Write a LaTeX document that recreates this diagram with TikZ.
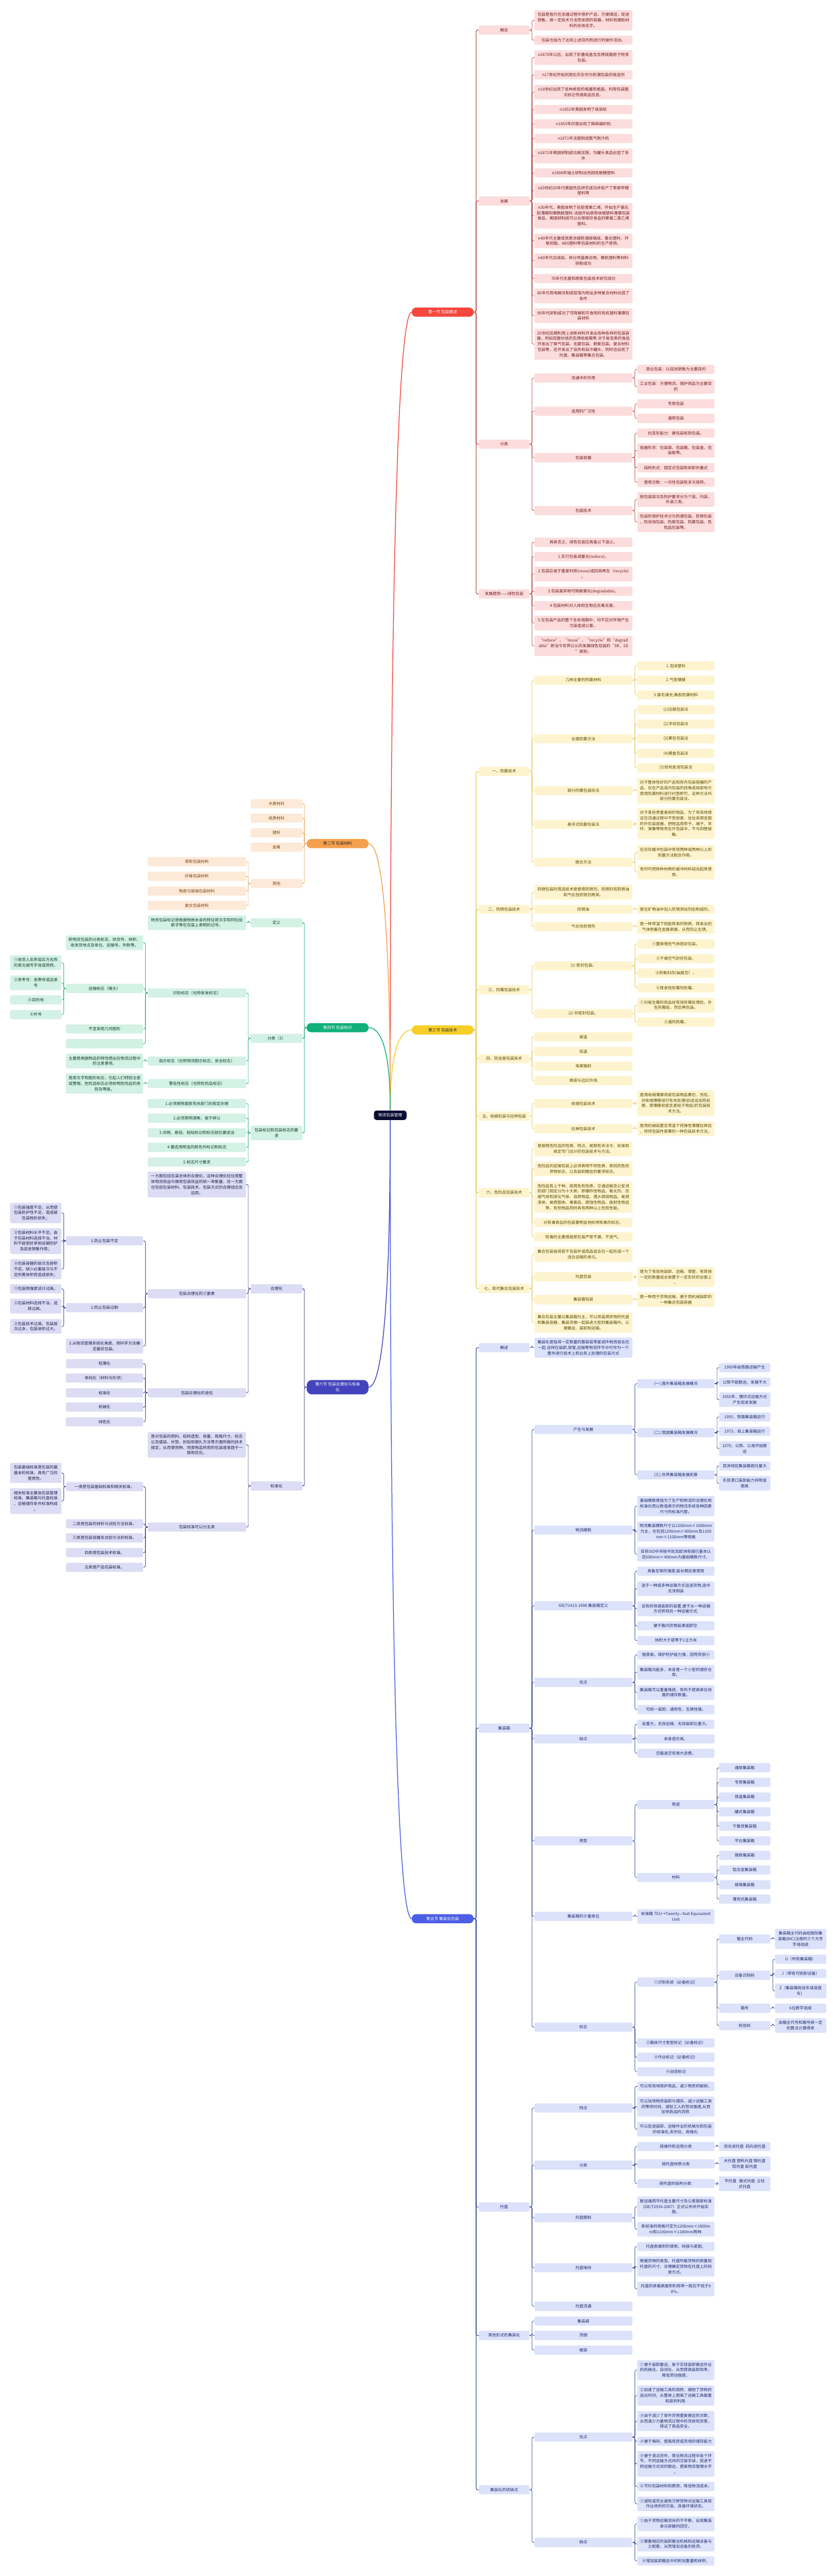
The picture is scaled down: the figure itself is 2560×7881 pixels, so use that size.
\documentclass[tikz,border=0pt]{standalone}
\usepackage{fontspec}
\setmainfont{Noto Sans CJK SC}
\definecolor{rootC}{HTML}{0C0C33}
\definecolor{redA}{HTML}{F5473E}\definecolor{redS}{HTML}{FCDCDC}\definecolor{redT}{HTML}{6E1E1E}\definecolor{redLn}{HTML}{B8403C}
\definecolor{yelA}{HTML}{F6CE2A}\definecolor{yelS}{HTML}{FDF4CF}\definecolor{yelT}{HTML}{5A4800}\definecolor{yelLn}{HTML}{E6C34A}
\definecolor{bluA}{HTML}{4A5EE6}\definecolor{bluS}{HTML}{DCE2FA}\definecolor{bluT}{HTML}{1F2B6B}\definecolor{bluLn}{HTML}{2E3F8E}
\definecolor{oraA}{HTML}{F4A04E}\definecolor{oraS}{HTML}{FDE9D7}\definecolor{oraT}{HTML}{7A4512}\definecolor{oraLn}{HTML}{E9A55E}
\definecolor{grnA}{HTML}{12B07A}\definecolor{grnS}{HTML}{D3F1E5}\definecolor{grnT}{HTML}{123D2E}\definecolor{grnLn}{HTML}{17A574}
\definecolor{purA}{HTML}{4343BD}\definecolor{purS}{HTML}{DCDCF4}\definecolor{purT}{HTML}{20204E}\definecolor{purLn}{HTML}{2C2C78}
\newcommand\fs{\fontsize{12.2pt}{16.8pt}\selectfont}
\tikzset{
 box/.style={rectangle,rounded corners=3pt,inner xsep=4pt,inner ysep=1pt,align=center,font=\fs,minimum height=28pt},
 n2/.style={minimum height=44.8pt},n3/.style={minimum height=61.6pt},
 n4/.style={minimum height=78.4pt},n5/.style={minimum height=95.2pt},
 lone/.style={rectangle,rounded corners=13pt,minimum width=189pt,minimum height=28pt,font=\fs,align=center,inner sep=2pt},
 cur/.style={fill=white},
 cn/.style={draw=black,line width=1.3pt,rounded corners=5pt},
 main/.style={line width=2.4pt}
}
\newcommand\Rtwo[4][]{\node[box,cur,minimum width=155pt,#1] (#2) at (1542.5,#3) {#4};}
\newcommand\Rthr[4][]{\node[box,cur,minimum width=300pt,#1] (#2) at (1785,#3) {#4};}
\newcommand\Rfou[4][]{\node[box,cur,minimum width=236pt,#1] (#2) at (2068,#3) {#4};}
\newcommand\Rfiv[4][]{\node[box,cur,minimum width=157pt,#1] (#2) at (2278.5,#3) {#4};}
\newcommand\Rsix[4][]{\node[box,cur,minimum width=157pt,#1] (#2) at (2449.5,#3) {#4};}
\newcommand\Ltwo[4][]{\node[box,cur,minimum width=158pt,#1] (#2) at (846,#3) {#4};}
\newcommand\Lthr[4][]{\node[box,cur,minimum width=301pt,#1] (#2) at (602.5,#3) {#4};}
\newcommand\Lfou[4][]{\node[box,cur,minimum width=236pt,#1] (#2) at (320,#3) {#4};}
\newcommand\Lfiv[4][]{\node[box,cur,minimum width=157pt,#1] (#2) at (109.5,#3) {#4};}
\newcommand\conR[3][]{\foreach \kid in {#3}{\draw[cn,#1] (#2.east) -- ++(7.5,0) |- (\kid.west);}}
\newcommand\conL[3][]{\foreach \kid in {#3}{\draw[cn,#1] (#2.west) -- ++(-7,0) |- (\kid.east);}}
\begin{document}
\begin{tikzpicture}[x=1pt,y=-1pt]
\fill[white] (0,0) rectangle (2560,7881);
\useasboundingbox (0,0) rectangle (2560,7881);

\node[rectangle,rounded corners=8pt,fill=rootC,text=white,minimum width=100pt,minimum height=29pt,font=\fs,inner sep=2pt] (root) at (1194,3412) {物流包装管理};

% ================= RED =================
\begin{scope}[cur/.style={fill=redS,text=redT},cn/.style={draw=redLn,line width=1.3pt,rounded corners=5pt}]
\node[lone,fill=redA,text=white] (r) at (1354.5,955) {第一节 包装概述};
\Rtwo{ra}{92}{概念}
\Rtwo{rb}{615}{发展}
\Rtwo{rc}{1359}{分类}
\Rtwo{rd}{1817}{发展趋势——绿色包装}
\Rthr[n3]{ra1}{62}{包装是指为在流通过程中保护产品，方便储运，促进\\销售，按一定技术方法而采用的容器、材料和辅助材\\料的总体名字。}
\Rthr{ra2}{123}{包装也指为了达到上述目的而进行的操作活动。}
\Rthr[n2]{rb1}{176}{n1870年以后，出现了折叠纸盒及瓦楞纸箱用于物资\\包装。}
\Rthr{rb2}{229}{n17世纪开始利用石灰石作为防潮包装的吸湿剂}
\Rthr[n2]{rb3}{282}{n18世纪出现了各种类型的瓶塞和瓶盖。利用包装图\\文标记传递商品信息。}
\Rthr{rb4}{335}{n1852年美国发明了纸袋机}
\Rthr{rb5}{379}{n1855年印度出现了麻袋编织机}
\Rthr{rb6}{424}{n1871年法国制成氨气制冷机}
\Rthr[n2]{rb7}{477}{n1871年美国研制成功高压锅，为罐头食品创造了条\\件}
\Rthr{rb8}{529}{n1908年瑞士研制出热固性酚醛塑料}
\Rthr[n2]{rb9}{583}{n20世纪20年代美国先后研究成功并投产了苯胺甲醛\\塑料等}
\Rthr[n4]{rb10}{660}{n30年代，美国发明了低密度聚乙烯，开始生产氯化\\胶薄膜和聚酰胺塑料.法国开始使用收缩塑料薄膜包装\\食品，美国研制成可以长期保存食品的聚偏二氯乙烯\\塑料。}
\Rthr[n2]{rb11}{737}{n40年代主要成就是涂蜡防潮玻璃纸、氟化塑料、环\\氧树脂、ABS塑料等包装材料的生产使用。}
\Rthr[n2]{rb12}{798}{n60年代合成纸、异分同晶聚合物、聚矾塑料等材料\\研制成功}
\Rthr{rb13}{852}{70年代无菌和脱氧包装技术研究成功}
\Rthr[n2]{rb14}{905}{80年代用电解法制成铝箔为制出多种复合材料创造了\\条件}
\Rthr[n2]{rb15}{966}{90年代研制成功了可降解和可食用的有机塑料薄膜包\\装材料}
\Rthr[n5]{rb16}{1053}{20世纪后期利用上述新材料开发出各种各样的包装容\\器，例如双面衬纸的瓦楞纸板箱等.对于易变质的食品\\开发出了换气包装、无菌包装、脱氧包装、复合材料\\包装等，还开发出了自热和自冷罐头，同时还出现了\\托盘、集装箱等集合包装。}
\Rthr{rc1}{1156}{流通中的作用}
\Rthr{rc2}{1258}{适用的广泛性}
\Rthr{rc3}{1400}{包装容器}
\Rthr{rc4}{1562}{包装技术}
\Rfou{rc1a}{1130}{商业包装：以促进销售为主要目的}
\Rfou[n2]{rc1b}{1183}{工业包装：方便物流、保护商品为主要目\\的}
\Rfou{rc2a}{1235}{专用包装}
\Rfou{rc2b}{1280}{通用包装}
\Rfou{rc3a}{1325}{抗变形能力：硬包装和软包装。}
\Rfou[n2]{rc3b}{1378}{容器形状：包装袋、包装箱、包装盒、包\\装瓶等。}
\Rfou{rc3c}{1431}{结构形式：固定式包装和拆卸折叠式}
\Rfou{rc3d}{1475}{使用次数：一次性包装和多次周转。}
\Rfou[n2]{rc4a}{1528}{按包装层次及防护要求分为个装、内装、\\外装三类。}
\Rfou[n3]{rc4b}{1597}{包装的保护技术分为防潮包装、防锈包装\\、防虫蚀包装、防腐包装、防震包装、危\\险品包装等。}
\Rthr{rd1}{1659}{具体言之，绿色包装应具备以下涵义。}
\Rthr{rd2}{1703}{1.实行包装减量化(reduce)。}
\Rthr[n2]{rd3}{1756}{2.包装应易于重复利用(reuse)或回收再生（recycle)\\。}
\Rthr{rd4}{1809}{3.包装废弃物可降解腐化(degradable)。}
\Rthr{rd5}{1853}{4.包装材料对人体和生物应无毒无害。}
\Rthr[n2]{rd6}{1906}{5.在包装产品的整个生命周期中，均不应对环境产生\\污染造成公害。}
\Rthr[n3]{rd7}{1976}{“reduce”、“reuse”、“recycle”和“degrad\\able”即当今世界公认的发展绿色包装的“3R，1D\\”原则。}
\conR[line width=1.8pt]{r}{ra,rb,rc,rd}
\conR{ra}{ra1,ra2}
\conR{rb}{rb1,rb2,rb3,rb4,rb5,rb6,rb7,rb8,rb9,rb10,rb11,rb12,rb13,rb14,rb15,rb16}
\conR{rc}{rc1,rc2,rc3,rc4}
\conR{rc1}{rc1a,rc1b}
\conR{rc2}{rc2a,rc2b}
\conR{rc3}{rc3a,rc3b,rc3c,rc3d}
\conR{rc4}{rc4a,rc4b}
\conR{rd}{rd1,rd2,rd3,rd4,rd5,rd6,rd7}
\draw[main,draw=redA] (root.north) .. controls (1194,2909) and (1194,955) .. (r.west);
\end{scope}

% ================= YELLOW =================
\begin{scope}[cur/.style={fill=yelS,text=yelT},cn/.style={draw=yelLn,line width=1.3pt,rounded corners=5pt}]
\node[lone,fill=yelA,text=black!85] (y) at (1354.5,3151) {第三节 包装技术};
\Rtwo{ya}{2360}{一、防震技术}
\Rtwo{yb}{2782}{二、防锈包装技术}
\Rtwo{yc}{3028}{三、防霉包装技术}
\Rtwo{yd}{3239}{四、防虫害包装技术}
\Rtwo{ye}{3415}{五、收缩包装与拉伸包装}
\Rtwo{yf}{3649}{六、危险品包装技术}
\Rtwo{yg}{3942}{七、现代集合包装技术}
\Rthr{ya1}{2081}{几种主要的防震材料}
\Rthr{ya2}{2260}{全面防震方法}
\Rthr{ya3}{2419}{部分防震包装技法}
\Rthr{ya4}{2522}{悬浮式防震包装法}
\Rthr{ya5}{2638}{联合方法}
\Rfou{ya1a}{2037}{1.泡沫塑料}
\Rfou{ya1b}{2081}{2.气垫薄膜}
\Rfou{ya1c}{2126}{3.兽毛填充,橡胶防震材料}
\Rfou{ya2a}{2171}{(1)压缩包装法}
\Rfou{ya2b}{2215}{(2)浮动包装法}
\Rfou{ya2c}{2260}{(3)裹包包装法}
\Rfou{ya2d}{2305}{(4)模盒包装法}
\Rfou{ya2e}{2349}{(5)就地发泡包装法}
\Rfou[n4]{ya3a}{2419}{对于整体性好的产品和有内包装容器的产\\品，仅在产品或内包装的拐角或局部地方\\使用防震材料进行衬垫即可，这种方法叫\\部分防震包装法。}
\Rfou[n5]{ya4a}{2520}{对于某些贵重易损的物品，为了有效地保\\证在流通过程中不受损害，往往采用坚固\\的外包装容器，把物品用带子、绳子、吊\\环、弹簧等物吊在外包装中，不与四壁接\\触。}
\Rfou[n2]{ya5a}{2608}{在实际缓冲包装中常将两种或两种以上的\\防震方法配合作用。}
\Rfou[n2]{ya5b}{2668}{有时可把异种材质的缓冲材料组合起来使\\用。}
\Rthr[n2]{yb1}{2730}{防锈包装的首选技术是使用防锈剂，防锈剂有防锈油\\和气化性防锈剂两类。}
\Rthr{yb2}{2782}{防锈油}
\Rthr{yb3}{2835}{气化性防锈剂}
\Rfou{yb2a}{2782}{是在矿物油中加入防锈添加剂后制成的。}
\Rfou[n2]{yb3a}{2835}{是一种常温下就能挥发的物质，挥发出的\\气体附着在金属表面，从而防止生锈。}
\Rthr{yc1}{2955}{(1) 密封包装。}
\Rthr{yc2}{3101}{(2) 非密封包装。}
\Rfou{yc1a}{2888}{①置换惰性气体密封包装。}
\Rfou{yc1b}{2933}{②干燥空气封存包装。}
\Rfou{yc1c}{2977}{③防氧封存(抽真空）。}
\Rfou{yc1d}{3022}{④挥发性防霉剂防霉。}
\Rfou[n2]{yc2a}{3075}{①对易生霉的商品经有效防霉处理后，外\\包防霉纸，然后再包装。}
\Rfou{yc2b}{3127}{②通风防霉。}
\Rthr{yd1}{3172}{高温}
\Rthr{yd2}{3217}{低温}
\Rthr{yd3}{3262}{电离辐射}
\Rthr{yd4}{3306}{微波与远红外线}
\Rthr{ye1}{3376}{收缩包装技术}
\Rthr{ye2}{3453}{拉伸包装技术}
\Rfou[n4]{ye1a}{3375}{是用收缩薄膜将欲包装物品裹包，然后，\\对收缩薄膜进行有关处理(如适当加热处\\理，使薄膜收紧且紧贴于物品)的包装技\\术方法。}
\Rfou[n2]{ye2a}{3453}{是用机械装置在常温下将弹性薄膜拉伸后\\，将待包装件紧裹的一种包装技术方法。}
\Rthr[n2]{yf1}{3515}{是按照危险品的性质、特点、按照有关法令、标准和\\规定专门设计的包装技术与方法。}
\Rthr[n2]{yf2}{3576}{危险品的运输包装上必须表明不同性质、类别的危险\\货物标志，以及装卸搬运的要求标志。}
\Rthr[n5]{yf3}{3662}{危险品有上千种，按其危险性质，交通运输及公安消\\防部门规定分为十大类，即爆炸性物品、氧化剂、压\\缩气体和液化气体、自燃物品、遇水燃烧物品、易燃\\液体、易燃固体、毒害品、腐蚀性物品、放射性物品\\等，有些物品同时具有两种以上危险性能。}
\Rthr{yf4}{3740}{对有毒商品的包装要明显地标明有毒的标志。}
\Rthr{yf5}{3784}{防毒的主要措施是包装严密不漏、不透气。}
\Rthr[n2]{yg1}{3838}{集合包装指将若干包装件或商品组合在一起形成一个\\适合运输的单元。}
\Rthr{yg2}{3906}{托盘包装}
\Rthr{yg3}{3976}{集装箱包装}
\Rthr[n3]{yg4}{4046}{集合包装主要以集装箱为主，可以将装满货物的托盘\\和集装容器、集装货捆一起装进大型的集装箱内，以\\便搬运、装卸和运输。}
\Rfou[n3]{yg2a}{3907}{是为了有效地装卸、运输、保管，将其按\\一定的数量组合放置于一定形状的台面上\\。}
\Rfou[n2]{yg3a}{3976}{是一种用于货物运输、便于用机械装卸的\\一种集合包装容器}
\conR[line width=1.8pt]{y}{ya,yb,yc,yd,ye,yf,yg}
\conR{ya}{ya1,ya2,ya3,ya4,ya5}
\conR{ya1}{ya1a,ya1b,ya1c}
\conR{ya2}{ya2a,ya2b,ya2c,ya2d,ya2e}
\conR{ya3}{ya3a}
\conR{ya4}{ya4a}
\conR{ya5}{ya5a,ya5b}
\conR{yb}{yb1,yb2,yb3}
\conR{yb2}{yb2a}
\conR{yb3}{yb3a}
\conR{yc}{yc1,yc2}
\conR{yc1}{yc1a,yc1b,yc1c,yc1d}
\conR{yc2}{yc2a,yc2b}
\conR{yd}{yd1,yd2,yd3,yd4}
\conR{ye}{ye1,ye2}
\conR{ye1}{ye1a}
\conR{ye2}{ye2a}
\conR{yf}{yf1,yf2,yf3,yf4,yf5}
\conR{yg}{yg1,yg2,yg3,yg4}
\conR{yg2}{yg2a}
\conR{yg3}{yg3a}
\draw[main,draw=yelA] (root.north) .. controls (1194,3349) and (1194,3151) .. (y.west);
\end{scope}

% ================= BLUE =================
\begin{scope}[cur/.style={fill=bluS,text=bluT},cn/.style={draw=bluLn,line width=1.3pt,rounded corners=5pt}]
\node[lone,fill=bluA,text=white] (b) at (1354.5,5870) {第五节 集装化包装};
\Rtwo{ba}{4123}{概述}
\Rtwo{bb}{5287}{集装箱}
\Rtwo{bc}{6752}{托盘}
\Rtwo{bd}{7145}{其他形式的集装化}
\Rtwo{be}{7617}{集装化的优缺点}
\Rthr[n3]{ba1}{4123}{集装化是指将一定数量的散装或零星成件物资组合在\\一起.这样在装卸,保管,运输等物流环节中可作为一个\\整件进行技术上和业务上处理的包装方式}
\Rthr{bb1}{4373}{产生与发展}
\Rthr{bb2}{4681}{物流模数}
\Rthr{bb3}{4913}{GB/T1413-1998.集装箱定义}
\Rthr{bb4}{5147}{优点}
\Rthr{bb5}{5320}{缺点}
\Rthr{bb6}{5632}{类型}
\Rthr{bb7}{5863}{集装箱的计量单位}
\Rthr{bb8}{6202}{标志}
\Rfou{bb1a}{4233}{(一).国外集装箱发展概况}
\Rfou{bb1b}{4383}{(二).我国集装箱发展概况}
\Rfou{bb1c}{4512}{(三).世界集装箱发展前景}
\Rfiv{bb1a1}{4184}{1900年由铁路运输产生}
\Rfiv{bb1a2}{4229}{公铁不能联运，发展不大}
\Rfiv[n2]{bb1a3}{4282}{1955年，猪伏式运输方式\\产生促进发展}
\Rfiv{bb1b1}{4335}{1955，铁路集装箱运行}
\Rfiv{bb1b2}{4379}{1973，海上集装箱运行}
\Rfiv[n2]{bb1b3}{4432}{1979，公铁、公海开始联\\运}
\Rfiv{bb1c1}{4485}{亚洲地区集装箱吞吐量大}
\Rfiv[n2]{bb1c2}{4538}{东亚港口装卸能力将明显\\提高}
\Rfou[n3]{bb2a}{4608}{基础模数是指为了生产和物流的合理化和\\标准化而以数值表示的物流系统各种因素\\尺寸的标准尺度。}
\Rfou[n3]{bb2b}{4685}{物流集装模数尺寸以1200mm×1000mm\\为主，也包括1200mm×800mm及1100\\mm×1100mm等规格}
\Rfou[n2]{bb2c}{4755}{目前ISO中央秘书处及欧洲各国已基本认\\定600mm×400mm为基础模数尺寸。}
\Rfou{bb3a}{4807}{具备足够的强度,能长期反复使用}
\Rfou[n2]{bb3b}{4860}{适于一种或多种运输方式运送货物,途中\\无须倒装}
\Rfou[n2]{bb3c}{4922}{设有供快速装卸的装置,便于从一种运输\\方式转到另一种运输方式.}
\Rfou{bb3d}{4974}{便于箱内货物装满或卸空.}
\Rfou{bb3e}{5019}{体积大于或等于1立方米}
\Rfou{bb4a}{5063}{强度高，保护防护能力强，因而货损小}
\Rfou[n2]{bb4b}{5116}{集装箱功能多，本身是一个小型的储存仓\\库。}
\Rfou[n2]{bb4c}{5178}{集装箱可以重叠堆放，有利于提高单位地\\面的储存数量。}
\Rfou{bb4d}{5230}{可统一装卸，通用性，互换性强。}
\Rfou{bb5a}{5275}{自重大，无效运输，无效装卸比重大。}
\Rfou{bb5b}{5320}{本身造价高。}
\Rfou{bb5c}{5364}{空箱返空有很大浪费。}
\Rfou{bb6a}{5521}{用途}
\Rfou{bb6b}{5744}{材料}
\Rfiv{bb6a1}{5408}{通用集装箱}
\Rfiv{bb6a2}{5453}{专用集装箱}
\Rfiv{bb6a3}{5498}{保温集装箱}
\Rfiv{bb6a4}{5543}{罐式集装箱}
\Rfiv{bb6a5}{5587}{干散货集装箱}
\Rfiv{bb6a6}{5632}{平台集装箱}
\Rfiv{bb6b1}{5676}{钢质集装箱}
\Rfiv{bb6b2}{5721}{铝合金集装箱}
\Rfiv{bb6b3}{5766}{玻璃集装箱}
\Rfiv{bb6b4}{5810}{薄壳式集装箱}
\Rfou[n2]{bb7a}{5863}{标准箱 TEU→Twenty—feet Equivalent\\Unit}
\Rfou{bb8a}{6064}{①识别系统（必备标记）}
\Rfou{bb8b}{6250}{②箱体尺寸类型标记（必备标记）}
\Rfou{bb8c}{6294}{③作业标记（必备标记）}
\Rfou{bb8d}{6338}{④自选标记}
\Rfiv{bb8a1}{5932}{箱主代码}
\Rfiv{bb8a2}{6043}{设备识别码}
\Rfiv{bb8a3}{6144}{箱号}
\Rfiv{bb8a4}{6197}{校验码}
\Rsix[n3]{bb8a1x}{5932}{集装箱主代码由经国际集\\装箱(BIC)注册的三个大写\\字母组成}
\Rsix{bb8a2x}{5994}{U（所有集装箱）}
\Rsix{bb8a2y}{6038}{J（带有可拆卸设备）}
\Rsix[n2]{bb8a2z}{6091}{Z（集装箱拖挂车或底盘\\车）}
\Rsix{bb8a3x}{6144}{6位数字组成}
\Rsix[n2]{bb8a4x}{6197}{由箱主代号和箱号按一定\\的算法计算得来}
\Rthr{bc1}{6449}{特点}
\Rthr{bc2}{6624}{分类}
\Rthr{bc3}{6785}{托盘国标}
\Rthr{bc4}{6938}{托盘堆码}
\Rthr{bc5}{7056}{托盘流通}
\Rfou{bc1a}{6383}{可以有效地保护商品，减少物资的破损。}
\Rfou[n3]{bc1b}{6445}{可以加快物资装卸与储存、减少运输工具\\的等待时间，减轻工人的劳动强度,从而\\加快商品的流转.}
\Rfou[n2]{bc1c}{6514}{可以促进装卸、运输作业的机械化和包装\\的标准化,系列化、规格化.}
\Rfou{bc2a}{6567}{按操作和运用分类}
\Rfou{bc2b}{6620}{按托盘材质分类}
\Rfou{bc2c}{6680}{按托盘的结构分类:}
\Rfiv{bc2a1}{6567}{双向进托盘\ \ 四向进托盘}
\Rfiv[n2]{bc2b1}{6620}{木托盘 塑料托盘 钢托盘\\铝托盘 纸托盘}
\Rfiv[n2]{bc2c1}{6681}{平托盘\ \ \ 箱式托盘\ \ 立柱\\式托盘}
\Rfou[n3]{bc3a}{6751}{联运通用平托盘主要尺寸及公差国家标准\\(GB/T2934-2007）正式公布并开始实\\施。}
\Rfou[n2]{bc3b}{6820}{新标准的规格尺定为1200mm×1000m\\m和1100mm×1100mm两种.}
\Rfou{bc4a}{6873}{托盘表面积的使用、码放与紧固。}
\Rfou[n3]{bc4b}{6934}{根据货物的类型、托盘所载货物的质量和\\托盘的尺寸，合理确定货物在托盘上的码\\放方式。}
\Rfou[n2]{bc4c}{7003}{托盘的承载表面积利用率一般应不低于8\\0\%。}
\Rthr{bd1}{7101}{集装袋}
\Rthr{bd2}{7145}{货捆}
\Rthr{bd3}{7190}{框架}
\Rthr{be1}{7456}{优点}
\Rthr{be2}{7778}{缺点}
\Rfou[n3]{be1a}{7251}{①便于装卸搬运，易于实现装卸搬运作业\\的机械化、自动化，从而提高装卸效率，\\降低劳动强度，}
\Rfou[n3]{be1b}{7329}{②加速了运输工具的周转，缩短了货物的\\送达时间，从整体上提高了运输工具载重\\和容积利用.}
\Rfou[n3]{be1c}{7407}{③由于减少了单件货物重复搬运的次数，\\从而减少力量物流过程中的货损和货差，\\保证了商品安全。}
\Rfou{be1d}{7469}{④便于堆码，提高库房或货场的储存能力}
\Rfou[n4]{be1e}{7538}{⑤便于清点货件，简化物流过程中各个环\\节，不同运输方式间的交接手续，促进不\\同运输方式间的联运，提高物流管理水平\\。}
\Rfou{be1f}{7607}{⑥节约包装材料和费用，降低物流成本。}
\Rfou[n2]{be1g}{7660}{⑦减轻或完全避免污秽货物对运输工具和\\作业场所的污染，改善环境状态。}
\Rfou[n2]{be2a}{7721}{①由于货物运输流向的不平衡，出现集装\\单元容器的回空，}
\Rfou[n2]{be2b}{7783}{②需要相应的装卸搬运机械和运输设备与\\之配套，从而增加设备的投资。}
\Rfou{be2c}{7835}{③增加装卸搬运中的附加重量和体积。}
\conR[line width=1.8pt]{b}{ba,bb,bc,bd,be}
\conR{ba}{ba1}
\conR{bb}{bb1,bb2,bb3,bb4,bb5,bb6,bb7,bb8}
\conR{bb1}{bb1a,bb1b,bb1c}
\conR{bb1a}{bb1a1,bb1a2,bb1a3}
\conR{bb1b}{bb1b1,bb1b2,bb1b3}
\conR{bb1c}{bb1c1,bb1c2}
\conR{bb2}{bb2a,bb2b,bb2c}
\conR{bb3}{bb3a,bb3b,bb3c,bb3d,bb3e}
\conR{bb4}{bb4a,bb4b,bb4c,bb4d}
\conR{bb5}{bb5a,bb5b,bb5c}
\conR{bb6}{bb6a,bb6b}
\conR{bb6a}{bb6a1,bb6a2,bb6a3,bb6a4,bb6a5,bb6a6}
\conR{bb6b}{bb6b1,bb6b2,bb6b3,bb6b4}
\conR{bb7}{bb7a}
\conR{bb8}{bb8a,bb8b,bb8c,bb8d}
\conR{bb8a}{bb8a1,bb8a2,bb8a3,bb8a4}
\conR{bb8a1}{bb8a1x}
\conR{bb8a2}{bb8a2x,bb8a2y,bb8a2z}
\conR{bb8a3}{bb8a3x}
\conR{bb8a4}{bb8a4x}
\conR{bc}{bc1,bc2,bc3,bc4,bc5}
\conR{bc1}{bc1a,bc1b,bc1c}
\conR{bc2}{bc2a,bc2b,bc2c}
\conR{bc2a}{bc2a1}
\conR{bc2b}{bc2b1}
\conR{bc2c}{bc2c1}
\conR{bc3}{bc3a,bc3b}
\conR{bc4}{bc4a,bc4b,bc4c}
\conR{bd}{bd1,bd2,bd3}
\conR{be}{be1,be2}
\conR{be1}{be1a,be1b,be1c,be1d,be1e,be1f,be1g}
\conR{be2}{be2a,be2b,be2c}
\draw[main,draw=bluA] (root.south) .. controls (1194,3916) and (1194,5870) .. (b.west);
\end{scope}

% ================= ORANGE =================
\begin{scope}[cur/.style={fill=oraS,text=oraT},cn/.style={draw=oraLn,line width=1.3pt,rounded corners=5pt}]
\node[lone,fill=oraA,text=black!85] (o) at (1033,2581) {第二节 包装材料};
\Ltwo{oa}{2459}{木质材料}
\Ltwo{ob}{2503}{纸质材料}
\Ltwo{oc}{2548}{塑料}
\Ltwo{od}{2592}{金属}
\Ltwo{oe}{2703}{其他}
\Lthr{oe1}{2636}{草制包装材料}
\Lthr{oe2}{2681}{纤维包装材料}
\Lthr{oe3}{2726}{陶瓷与玻璃包装材料}
\Lthr{oe4}{2770}{复合包装材料}
\conL[line width=1.8pt]{o}{oa,ob,oc,od,oe}
\conL{oe}{oe1,oe2,oe3,oe4}
\draw[main,draw=oraA] (root.north) .. controls (1194,3235) and (1194,2581) .. (o.east);
\end{scope}

% ================= GREEN =================
\begin{scope}[cur/.style={fill=grnS,text=grnT},cn/.style={draw=grnLn,line width=1.3pt,rounded corners=5pt}]
\node[lone,fill=grnA,text=white] (g) at (1033,3144) {第四节 包装标识};
\Ltwo{ga}{2823}{定义}
\Ltwo{gb}{3177}{分类（3）}
\Ltwo[n2]{gc}{3466}{包装标记和包装标志的要\\求}
\Lthr[n2]{ga1}{2823}{物资包装标记是根据物质本身的特征用文字和阿拉伯\\数字等在包装上表明的记号。}
\Lthr{gb1}{3038}{识别标志（也称收发标志）}
\Lthr{gb2}{3246}{指示标志（也称物流图示标志、安全标志）}
\Lthr{gb3}{3315}{警告性标志（也称危险品标志）}
\Lfou[n2]{gb1a}{2884}{即物流包装的分类标志、供货号、体积、\\收发货地点及单位、运输号、件数等。}
\Lfou{gb1b}{3024}{运输标志（唛头）}
\Lfou{gb1c}{3148}{不宜采用几何图形}
\Lfou{gb1d}{3193}{}
\Lfiv[n2]{gb1b1}{2945}{①收货人名称或买方名称\\的英文缩写字母或简称。}
\Lfiv[n2]{gb1b2}{3007}{②参考号：发票号或运单\\号}
\Lfiv{gb1b3}{3059}{③目的地}
\Lfiv{gb1b4}{3104}{④件号}
\Lfou[n2]{gb2a}{3246}{主要是根据物品的特性提出在物流过程中\\的注意事项。}
\Lfou[n3]{gb3a}{3315}{是用文字和图形标志，引起人们特别注意\\或警惕，危险品标志必须标明危险品的类\\别及等级。}
\Lthr{gc1}{3376}{1.必须按照国家有关部门的规定办理}
\Lthr{gc2}{3421}{2.必须简明清晰、易于辨认}
\Lthr{gc3}{3466}{3.涂刷、悬挂、粘贴标记和标志部位要适当}
\Lthr{gc4}{3510}{4.要选用明显的颜色作标记和标志}
\Lthr{gc5}{3555}{5.标志尺寸要求}
\conL[line width=1.8pt]{g}{ga,gb,gc}
\conL{ga}{ga1}
\conL{gb}{gb1,gb2,gb3}
\conL{gb1}{gb1a,gb1b,gb1c,gb1d}
\conL{gb1b}{gb1b1,gb1b2,gb1b3,gb1b4}
\conL{gb2}{gb2a}
\conL{gb3}{gb3a}
\conL{gc}{gc1,gc2,gc3,gc4,gc5}
\draw[main,draw=grnA] (root.north) .. controls (1194,3347) and (1194,3144) .. (g.east);
\end{scope}

% ================= PURPLE =================
\begin{scope}[cur/.style={fill=purS,text=purT},cn/.style={draw=purLn,line width=1.3pt,rounded corners=5pt}]
\node[lone,fill=purA,text=white,minimum height=44pt,rounded corners=16pt] (p) at (1033,4244) {第六节 包装合理化与标准\\化};
\Ltwo{pa}{3943}{合理化}
\Ltwo{pb}{4546}{标准化}
\Lthr[n4]{pa1}{3624}{一方面包括包装总体的合理化，这种合理化往往用整\\体物流效益与微观包装效益的统一来衡量，另一方面\\也包括包装材料、包装技术、包装方式的合理组合及\\运用。}
\Lthr{pa2}{3958}{包装合理化的三要素}
\Lthr{pa3}{4261}{包装合理化的途径}
\Lfou{pa2a}{3796}{1.防止包装不足}
\Lfou{pa2b}{4001}{2.防止包装过剩}
\Lfou[n2]{pa2c}{4118}{3.从物流管理系统化角度，用科学方法确\\定最优包装。}
\Lfiv[n3]{pa2a1}{3711}{①包装强度不足，从而使\\包装防护性不足，造成被\\包装物的损失；}
\Lfiv[n4]{pa2a2}{3797}{②包装材料水平不足。由\\于包装材料选择不当，材\\料不能很好承担运输防护\\及促进销售作用；}
\Lfiv[n3]{pa2a3}{3883}{③包装容器的层次及容积\\不足。缺少必要层次与不\\足所需体积而造成损失；}
\Lfiv{pa2b1}{3943}{①包装物强度设计过高。}
\Lfiv[n2]{pa2b2}{3996}{②包装材料选择不当，选\\择过高。}
\Lfiv[n2]{pa2b3}{4058}{③包装技术过高。包装层\\次过多，包装体积过大。}
\Lfou{pa3a}{4172}{轻薄化}
\Lfou{pa3b}{4216}{单纯化（材料与形状）}
\Lfou{pa3c}{4261}{标准化}
\Lfou{pa3d}{4305}{机械化}
\Lfou{pa3e}{4350}{绿色化}
\Lthr[n4]{pb1}{4420}{是对包装的用料、结构造型、容量、规格尺寸、标志\\以及盛装、衬垫、封贴和捆扎方法等方面所做的技术\\规定，从而使同种、同类物品所用的包装逐渐趋于一\\致和优化。}
\Lthr{pb2}{4672}{包装标准可以分五类}
\Lfou{pb2a}{4548}{一类是包装基础标准和相关标准。}
\Lfou{pb2b}{4662}{二类是包装的材料与试验方法标准。}
\Lfou{pb2c}{4705}{三类是包装容器及试验方法的标准。}
\Lfou{pb2d}{4750}{四类是包装技术标准。}
\Lfou{pb2e}{4795}{五类是产品包装标准。}
\Lfiv[n3]{pb2a1}{4506}{包装基础标准是包装的最\\基本的标准，具有广泛的\\使用性。}
\Lfiv[n4]{pb2a2}{4592}{相关标准主要由包装管理\\标准、集装箱与托盘标准\\、运输储存条件标准构成\\。}
\conL[line width=1.8pt]{p}{pa,pb}
\conL{pa}{pa1,pa2,pa3}
\conL{pa2}{pa2a,pa2b,pa2c}
\conL{pa2a}{pa2a1,pa2a2,pa2a3}
\conL{pa2b}{pa2b1,pa2b2,pa2b3}
\conL{pa3}{pa3a,pa3b,pa3c,pa3d,pa3e}
\conL{pb}{pb1,pb2}
\conL{pb2}{pb2a,pb2b,pb2c,pb2d,pb2e}
\conL{pb2a}{pb2a1,pb2a2}
\draw[main,draw=purA] (root.south) .. controls (1194,3590) and (1194,4244) .. (p.east);
\end{scope}
\end{tikzpicture}
\end{document}
